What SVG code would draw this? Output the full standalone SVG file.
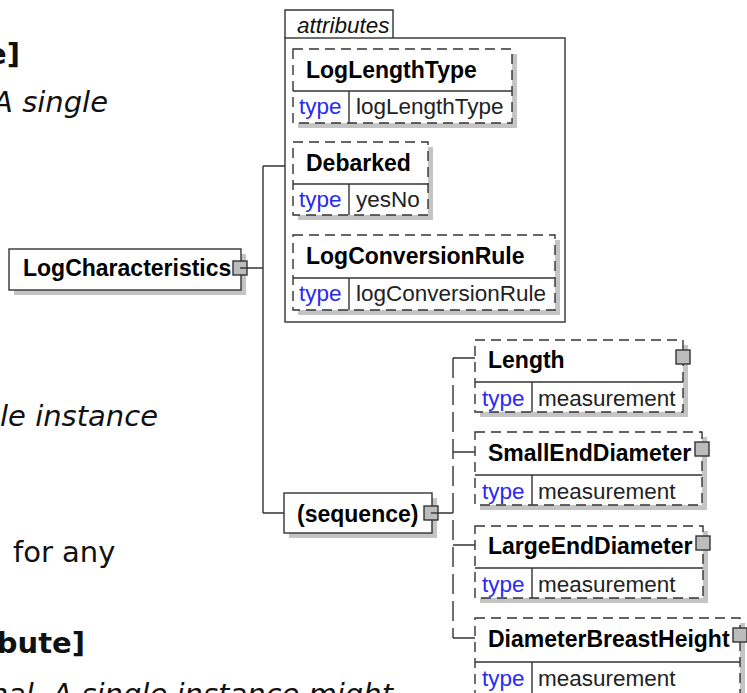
<svg xmlns="http://www.w3.org/2000/svg" width="747" height="693" viewBox="0 0 747 693">
<style>
.bg{fill:#fff}
.sh{fill:#c4c4c4}
.bx{fill:#fff;stroke:#333;stroke-width:1.4}
.dbx{fill:none;stroke:#333;stroke-width:1.4;stroke-dasharray:10 6}
.ln{fill:none;stroke:#333;stroke-width:1.4}
.dln{fill:none;stroke:#333;stroke-width:1.4;stroke-dasharray:20 7}
.sq{fill:#bcbcbc;stroke:#333;stroke-width:1.4}
.nm{font-family:"Liberation Sans",Arial,sans-serif;font-weight:bold;font-size:23px;fill:#000}
.ty{font-family:"Liberation Sans",Arial,sans-serif;font-size:22.5px;fill:#2a2af0}
.vl{font-family:"Liberation Sans",Arial,sans-serif;font-size:22.5px;fill:#222}
.it{font-family:"Liberation Sans",Arial,sans-serif;font-style:italic;font-size:22.5px;fill:#111}
.body{font-family:"DejaVu Sans",Verdana,sans-serif;font-size:29px;fill:#111}
</style>
<rect class="bg" x="0" y="0" width="747" height="693"/>

<g id="bodytext">
<text class="body" x="20" y="64" text-anchor="end" font-weight="bold">e]</text>
<text class="body" x="108" y="112" text-anchor="end" font-style="italic">A single</text>
<text class="body" x="158" y="426" text-anchor="end" font-style="italic">le instance</text>
<text class="body" x="13" y="562">for any</text>
<text class="body" x="85" y="653" text-anchor="end" font-weight="bold">bute]</text>
<text class="body" x="393" y="704" text-anchor="end" font-style="italic">nal. A single instance might</text>
</g>

<g id="connectors">
<path class="ln" d="M240 268H263M263 166V513M263 166H285M263 513H284M431 513H453"/>
<path class="dln" d="M453 358V638"/>
<path class="ln" d="M453 358H475M453 452H475M453 545H475M453 638H475"/>
</g>

<g id="LogCharacteristics">
<rect class="sh" x="14" y="254" width="232" height="41"/>
<rect class="bx" x="9" y="249" width="232" height="41"/>
<text class="nm" x="23" y="276">LogCharacteristics</text>
<rect class="sq" x="233" y="261" width="14" height="14"/>
<path class="ln" d="M240 268H247"/>
</g>

<g id="attributes">
<path class="ln" d="M285 38V10H393V38"/>
<rect class="ln" x="285" y="38" width="280" height="284"/>
<text class="it" x="297" y="33">attributes</text>
</g>

<g id="LogLengthType">
<rect class="sh" x="298" y="54" width="219" height="74"/>
<rect class="bg" x="293" y="49" width="219" height="74"/>
<rect class="dbx" x="293" y="49" width="219" height="74"/>
<path class="ln" d="M293 91H512M349 91V123"/>
<text class="nm" x="306" y="78">LogLengthType</text>
<text class="ty" x="299" y="114">type</text>
<text class="vl" x="356" y="114">logLengthType</text>
</g>

<g id="Debarked">
<rect class="sh" x="298" y="147" width="135" height="73"/>
<rect class="bg" x="293" y="142" width="135" height="73"/>
<rect class="dbx" x="293" y="142" width="135" height="73"/>
<path class="ln" d="M293 184H428M349 184V215"/>
<text class="nm" x="306" y="171">Debarked</text>
<text class="ty" x="299" y="207">type</text>
<text class="vl" x="356" y="207">yesNo</text>
</g>

<g id="LogConversionRule">
<rect class="sh" x="298" y="240" width="262" height="75"/>
<rect class="bg" x="293" y="235" width="262" height="75"/>
<rect class="dbx" x="293" y="235" width="262" height="75"/>
<path class="ln" d="M293 278H555M349 278V310"/>
<text class="nm" x="306" y="264">LogConversionRule</text>
<text class="ty" x="299" y="301">type</text>
<text class="vl" x="356" y="301">logConversionRule</text>
</g>

<g id="sequence">
<rect class="sh" x="289" y="498" width="148" height="40"/>
<rect class="bx" x="284" y="493" width="148" height="40"/>
<text class="nm" x="297" y="522">(sequence)</text>
<rect class="sq" x="424" y="506" width="14" height="14"/>
<path class="ln" d="M431 513H438"/>
</g>

<g id="Length">
<rect class="sh" x="480" y="345" width="208" height="72"/>
<rect class="bg" x="475" y="340" width="208" height="72"/>
<rect class="dbx" x="475" y="340" width="208" height="72"/>
<path class="ln" d="M475 382H683M532 382V412"/>
<text class="nm" x="488" y="368">Length</text>
<text class="ty" x="482" y="406">type</text>
<text class="vl" x="538" y="406">measurement</text>
<rect class="sq" x="676" y="350" width="14" height="14"/>
</g>

<g id="SmallEndDiameter">
<rect class="sh" x="480" y="437" width="227" height="73"/>
<rect class="bg" x="475" y="432" width="227" height="73"/>
<rect class="dbx" x="475" y="432" width="227" height="73"/>
<path class="ln" d="M475 475H702M532 475V505"/>
<text class="nm" x="488" y="461">SmallEndDiameter</text>
<text class="ty" x="482" y="499">type</text>
<text class="vl" x="538" y="499">measurement</text>
<rect class="sq" x="695" y="442" width="14" height="14"/>
</g>

<g id="LargeEndDiameter">
<rect class="sh" x="480" y="531" width="228" height="72"/>
<rect class="bg" x="475" y="526" width="228" height="72"/>
<rect class="dbx" x="475" y="526" width="228" height="72"/>
<path class="ln" d="M475 568H703M532 568V598"/>
<text class="nm" x="488" y="554">LargeEndDiameter</text>
<text class="ty" x="482" y="592">type</text>
<text class="vl" x="538" y="592">measurement</text>
<rect class="sq" x="696" y="536" width="14" height="14"/>
</g>

<g id="DiameterBreastHeight">
<rect class="sh" x="480" y="623" width="265" height="80"/>
<rect class="bg" x="475" y="618" width="265" height="80"/>
<rect class="dbx" x="475" y="618" width="265" height="80"/>
<path class="ln" d="M475 662H740M532 662V698"/>
<text class="nm" x="488" y="647">DiameterBreastHeight</text>
<text class="ty" x="482" y="686">type</text>
<text class="vl" x="538" y="686">measurement</text>
<rect class="sq" x="733" y="628" width="14" height="14"/>
</g>
</svg>
